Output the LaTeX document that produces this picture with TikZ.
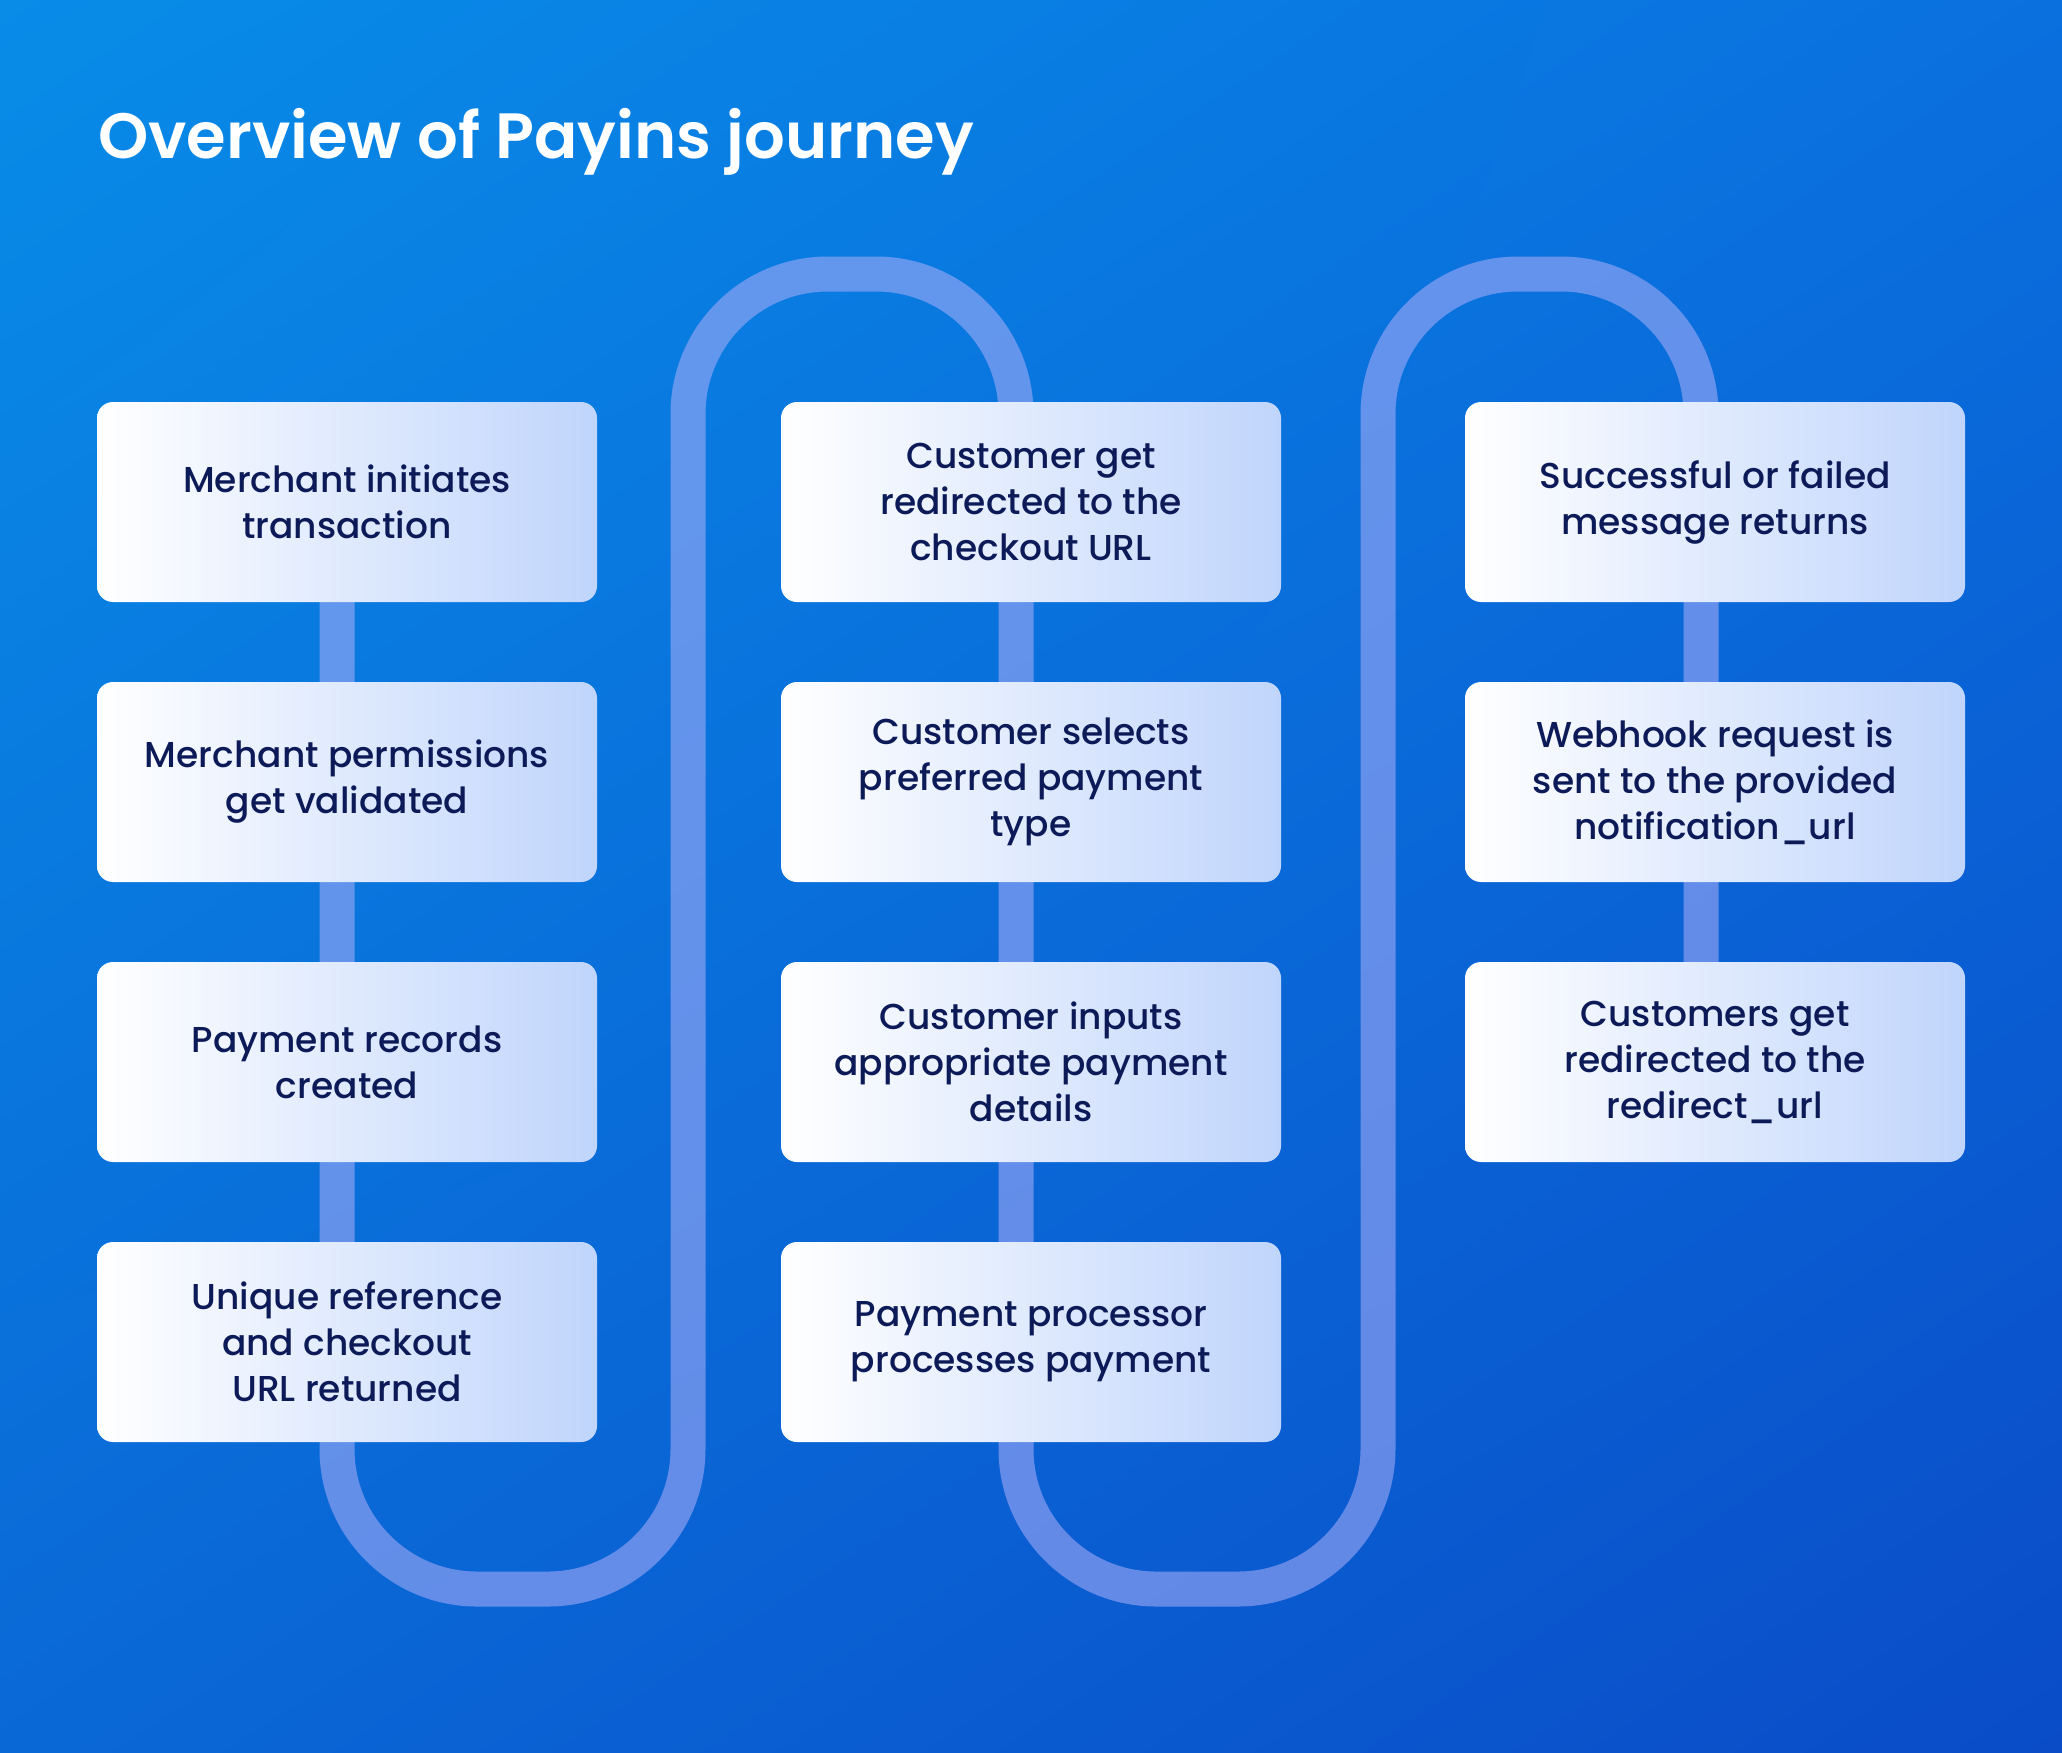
\documentclass[tikz,border=0pt]{standalone}
\usepackage{fontspec}
\usetikzlibrary{shadings}
\setmainfont{Poppins Medium}[BoldFont={Poppins SemiBold}]
\definecolor{bgTL}{RGB}{8,140,232}
\definecolor{bgTR}{RGB}{10,112,222}
\definecolor{bgBL}{RGB}{10,104,214}
\definecolor{bgBR}{RGB}{10,76,200}
\definecolor{boxR}{RGB}{192,213,252}
\definecolor{navy}{RGB}{12,27,88}
\definecolor{trackc}{RGB}{168,173,248}
\begin{document}
\begin{tikzpicture}[x=0.5pt,y=-0.5pt,
  stepbox/.style={rounded corners=8pt, minimum width=250pt, minimum height=100pt,
    left color=white, right color=boxR, align=center, text=navy, inner sep=0pt,
    font=\fontsize{18}{23}\selectfont},
  track/.style={line width=17.5pt, draw=trackc, draw opacity=0.57, rounded corners=70pt},
  titletext/.style={anchor=base west, text=white, inner sep=0pt, font=\fontsize{32}{38}\selectfont\bfseries}]
\shade[upper left=bgTL, upper right=bgTR, lower left=bgBL, lower right=bgBR] (0,0) rectangle (2062,1752);
\useasboundingbox (0,0) rectangle (2062,1752);

\node[titletext] (title) at (98,158) {Overview of Payins journey};

% track turn points
\coordinate (b1) at (337,1589);
\coordinate (b2) at (688,1589);
\coordinate (t1) at (688,274);
\coordinate (t2) at (1016,274);
\coordinate (b3) at (1016,1589);
\coordinate (b4) at (1378,1589);
\coordinate (t3) at (1378,274);
\coordinate (t4) at (1701,274);
\coordinate (s0) at (337,502);
\coordinate (e0) at (1701,1062);

\draw[track] (s0) -- (b1) -- (b2) -- (t1) -- (t2) -- (b3) -- (b4) -- (t3) -- (t4) -- (e0);

\node[stepbox] (c11) at (347,502) {Merchant initiates\\transaction};
\node[stepbox] (c12) at (347,782) {Merchant permissions\\get validated};
\node[stepbox] (c13) at (347,1062) {Payment records\\created};
\node[stepbox] (c14) at (347,1342) {Unique reference\\and checkout\\URL returned};

\node[stepbox] (c21) at (1031,502) {Customer get\\redirected to the\\checkout URL};
\node[stepbox] (c22) at (1031,782) {Customer selects\\preferred payment\\type};
\node[stepbox] (c23) at (1031,1062) {Customer inputs\\appropriate payment\\details};
\node[stepbox] (c24) at (1031,1342) {Payment processor\\processes payment};

\node[stepbox] (c31) at (1715,502) {Successful or failed\\message returns};
\node[stepbox] (c32) at (1715,782) {Webhook request is\\sent to the provided\\notification\_url};
\node[stepbox] (c33) at (1715,1062) {Customers get\\redirected to the\\redirect\_url};
\end{tikzpicture}
\end{document}
